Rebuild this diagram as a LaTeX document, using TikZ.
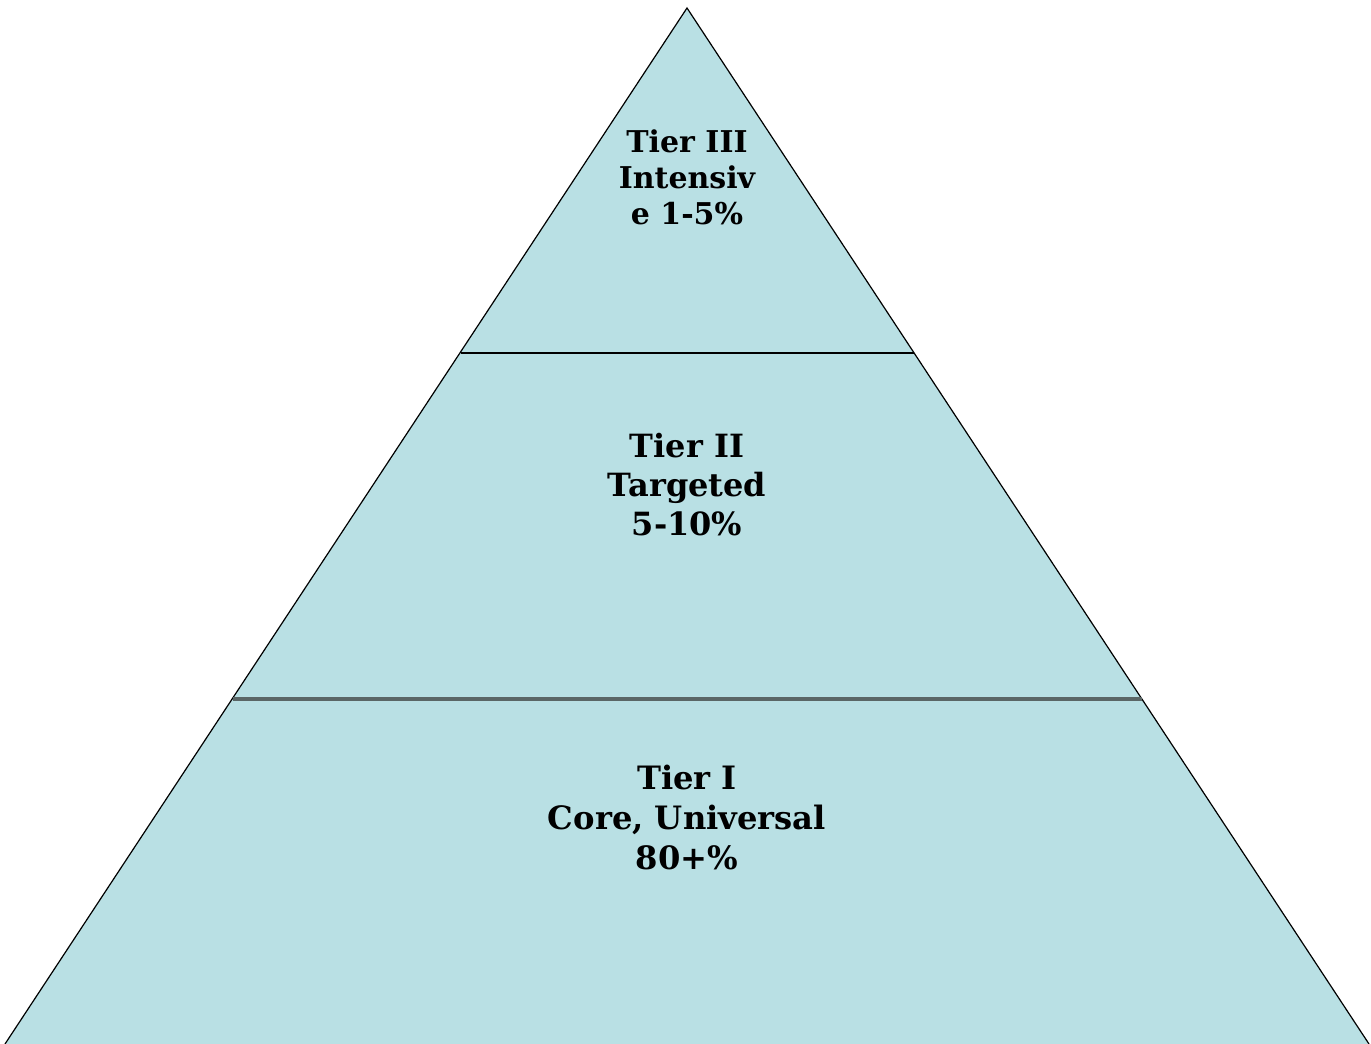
\documentclass[tikz,border=0pt]{standalone}
\usepackage{fontspec}
\setmainfont{DejaVu Serif}
\definecolor{pyrfill}{HTML}{B9E0E4}
\definecolor{midline}{HTML}{5A6666}
\begin{document}
\begin{tikzpicture}[x=0.5pt,y=-0.5pt,
  tiertext/.style={align=center,text=black,font=\bfseries\fontsize{16.1}{20}\selectfont,inner sep=0pt}]
\useasboundingbox (0,0) rectangle (1371,1044);
\coordinate (apex) at (687,8);
\coordinate (bl) at (5,1044);
\coordinate (br) at (1369,1044);
\fill[pyrfill] (apex) -- (bl) -- (br) -- cycle;
\draw[line width=0.6pt] (bl) -- (apex) -- (br);
\coordinate (l1) at (461,353);
\coordinate (r1) at (914,353);
\coordinate (l2) at (233,699);
\coordinate (r2) at (1142,699);
\draw[black,line width=1pt] (l1) -- (r1);
\draw[midline,line width=1.8pt] (l2) -- (r2);
\node[tiertext,font=\bfseries\fontsize{15}{18}\selectfont] (t3) at (687,177) {Tier III\\Intensiv\\e 1-5\%};
\node[tiertext,font=\bfseries\fontsize{16}{19.5}\selectfont] (t2) at (687,485) {Tier II\\Targeted\\5-10\%};
\node[tiertext] (t1) at (687,817) {Tier I\\Core, Universal\\80+\%};
\end{tikzpicture}
\end{document}
